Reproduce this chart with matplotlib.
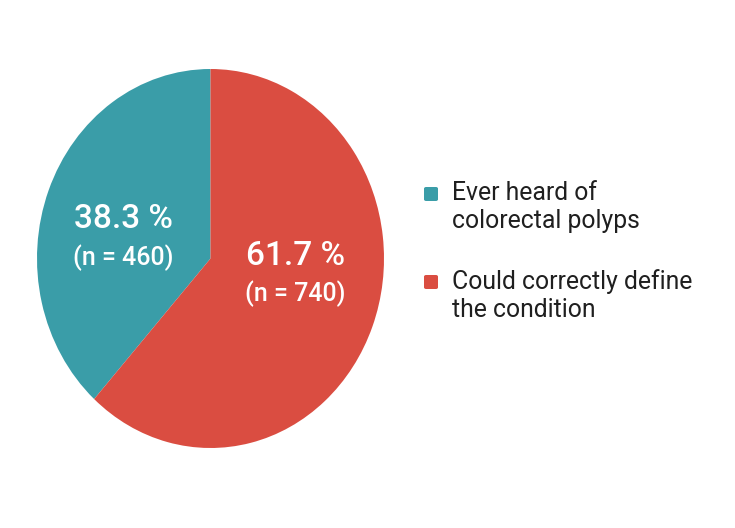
import matplotlib.pyplot as plt
from matplotlib.patches import FancyBboxPatch

plt.rcParams['font.family'] = ['Roboto', 'DejaVu Sans']

# data
labels = ['Ever heard of\ncolorectal polyps', 'Could correctly define\nthe condition']
shares = [38.3, 61.7]
counts = [460, 740]
colors = ['#3A9DA8', '#DA4D41']

W, H = 735, 528
fig = plt.figure(figsize=(W / 100, H / 100), dpi=100)
fig.patch.set_facecolor('white')

# pie is slightly taller than wide, so use a non-square axes with auto aspect
ax = fig.add_axes([37 / W, 1 - 448 / H, 347 / W, 379 / H])
wedges, _ = ax.pie(shares, colors=colors, startangle=90, counterclock=True,
                   radius=1, wedgeprops=dict(linewidth=0))
ax.set_xlim(-1, 1)
ax.set_ylim(-1, 1)
ax.set_aspect('auto')
ax.axis('off')

# slice labels (axes coords from pixel positions)
label_pos = [(123, 219, 258), (295, 256, 294)]
for (px, py1, py2), s, n in zip(label_pos, shares, counts):
    ax.text((px - 37) / 347 * 2 - 1, 1 - (py1 - 69) / 379 * 2, f'{s} %',
            color='white', fontsize=24, fontweight='medium',
            ha='center', va='center')
    ax.text((px - 37) / 347 * 2 - 1, 1 - (py2 - 69) / 379 * 2, f'(n = {n})',
            color='white', fontsize=18, fontweight='medium',
            ha='center', va='center')

# legend drawn by hand
leg_y = [194, 282]
for y, lab, c in zip(leg_y, labels, colors):
    sq = FancyBboxPatch((424 / W, 1 - (y + 7) / H), 14 / W, 14 / H,
                        boxstyle='round,pad=0,rounding_size=0.003',
                        transform=fig.transFigure, facecolor=c,
                        edgecolor='none')
    fig.patches.append(sq)
    fig.text(452 / W, 1 - (y - 13) / H, lab, fontsize=17.8, color='#1f1f1f',
             ha='left', va='top', linespacing=1.2)

fig.savefig('out.png', dpi=100)
